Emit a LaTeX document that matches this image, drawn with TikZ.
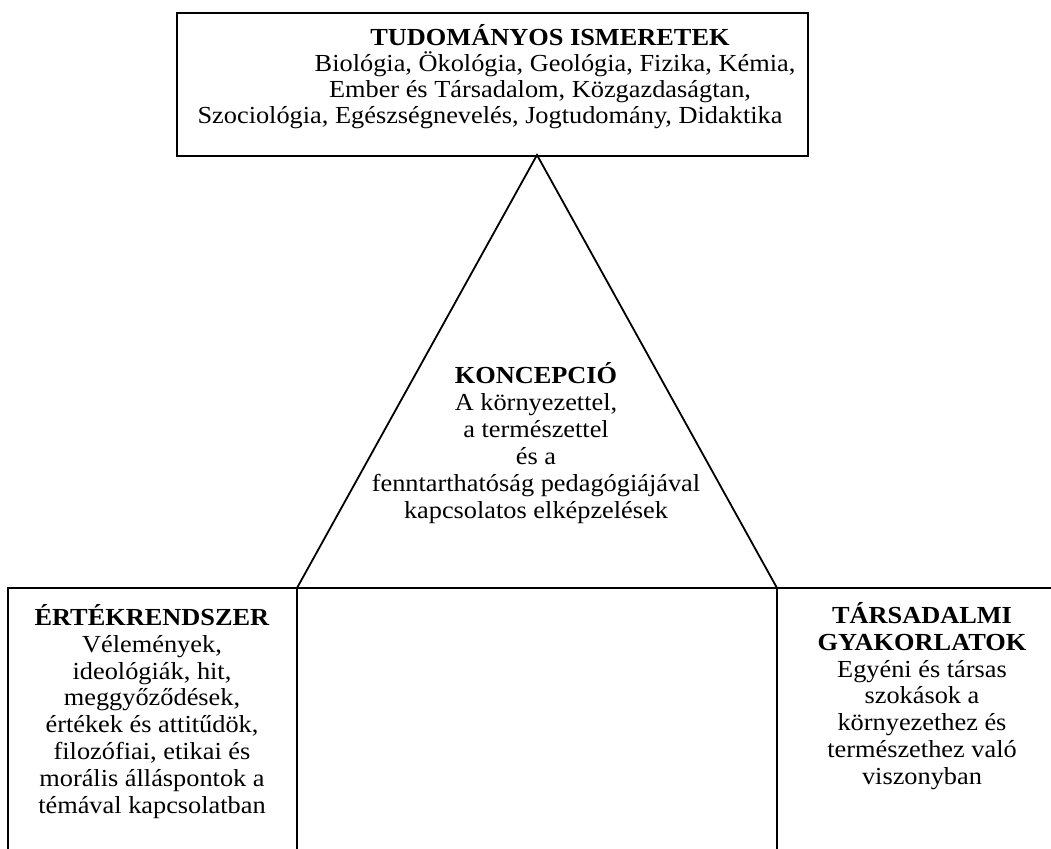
\documentclass[tikz,border=0pt]{standalone}
\usepackage{fontspec}
\setmainfont{Liberation Serif}[FakeStretch=1.075]
\begin{document}
\begin{tikzpicture}[x=1pt,y=-1pt,
  frame/.style={line width=1.8pt,line cap=rect},
  txt/.style={align=center,inner sep=0pt,font=\fontsize{24.5}{26.9}\selectfont}]
\useasboundingbox (0,0) rectangle (1051,848);
% top box
\node[draw,line width=1.8pt,minimum width=631pt,minimum height=143pt,inner sep=0pt,anchor=north west] (top) at (176,12) {};
\node[txt,font=\fontsize{24.5}{26}\selectfont,anchor=north] (toptext) at (490,24) {\hspace*{120pt}\textbf{TUDOMÁNYOS ISMERETEK}\\
\hspace*{130pt}Biológia, Ökológia, Geológia, Fizika, Kémia,\\
\hspace*{100pt}Ember és Társadalom, Közgazdaságtan,\\
Szociológia, Egészségnevelés, Jogtudomány, Didaktika};
% triangle
\coordinate (apex) at (537,155);
\coordinate (bl) at (297,588);
\coordinate (br) at (777,588);
\coordinate (lstart) at (8,588);
\coordinate (rend) at (1051,588);
\coordinate (lbot) at (8,848);
\coordinate (mlbot) at (297,848);
\coordinate (mrbot) at (777,848);
\draw[frame] (bl) -- (apex) -- (br);
\draw[frame] (lbot) -- (lstart) -- (rend);
\draw[frame] (bl) -- (mlbot);
\draw[frame] (br) -- (mrbot);
\node[txt,font=\fontsize{24.5}{27}\selectfont,anchor=north] (koncepcio) at (536,362) {\textbf{KONCEPCIÓ}\\
A környezettel,\\
a természettel\\
és a\\
fenntarthatóság pedagógiájával\\
kapcsolatos elképzelések};
\node[txt,anchor=north] (ertek) at (152,604) {\textbf{ÉRTÉKRENDSZER}\\
Vélemények,\\
ideológiák, hit,\\
meggyőződések,\\
értékek és attitűdök,\\
filozófiai, etikai és\\
morális álláspontok a\\
témával kapcsolatban};
\node[txt,anchor=north] (tars) at (922,602) {\textbf{TÁRSADALMI}\\
\textbf{GYAKORLATOK}\\
Egyéni és társas\\
szokások a\\
környezethez és\\
természethez való\\
viszonyban};
\end{tikzpicture}
\end{document}
